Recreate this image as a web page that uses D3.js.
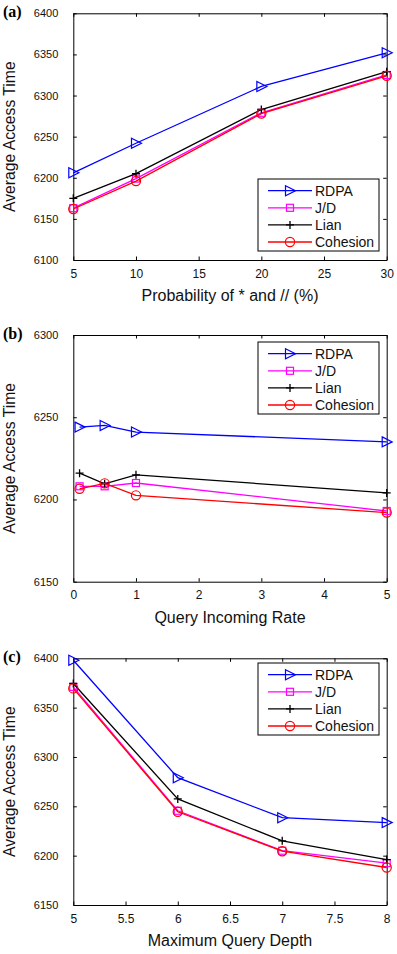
<!DOCTYPE html>
<html><head><meta charset="utf-8">
<script src="https://cdn.jsdelivr.net/npm/d3@7"></script>
<style>body{margin:0;background:#fff}svg{display:block}</style>
</head><body>
<svg id="chart" width="397" height="954"></svg>
<script>
// ---- data ----
const seriesNames = ["RDPA", "J/D", "Lian", "Cohesion"];
const seriesColors = ["#0000ff", "#ff00ff", "#000000", "#ff0000"];

const panelLabels = ["(a)", "(b)", "(c)"];
const xTitles = ["Probability of * and // (%)", "Query Incoming Rate", "Maximum Query Depth"];
const yTitle = "Average Access Time";

const xA = [5, 10, 20, 30];
const rdpaA = [6206, 6242, 6311, 6352];
const jdA = [6163, 6199, 6279, 6325];
const lianA = [6175, 6205, 6283, 6329];
const cohA = [6162, 6196, 6278, 6324];
const xTicksA = [5, 10, 15, 20, 25, 30];
const yTicksA = [6100, 6150, 6200, 6250, 6300, 6350, 6400];

const xB = [0.1, 0.5, 1, 5];
const rdpaB = [6244, 6245, 6241, 6235];
const jdB = [6208, 6208, 6210, 6193];
const lianB = [6216, 6209.5, 6215, 6204];
const cohB = [6206.5, 6209.8, 6202.5, 6192];
const xTicksB = [0, 1, 2, 3, 4, 5];
const yTicksB = [6150, 6200, 6250, 6300];

const xC = [5, 6, 7, 8];
const rdpaC = [6398, 6279, 6238.5, 6233.5];
const jdC = [6371, 6245.5, 6205, 6192.5];
const lianC = [6374.5, 6257.5, 6215, 6196];
const cohC = [6369.5, 6244.5, 6204.5, 6188];
const xTicksC = [5, 5.5, 6, 6.5, 7, 7.5, 8];
const yTicksC = [6150, 6200, 6250, 6300, 6350, 6400];

// ---- layout ----
const svg = d3.select("#chart");
const FONT = "'Liberation Sans', Arial, Helvetica, sans-serif";
const plotL = 73.3, plotR = 386.7, plotH = 246.7;

const panels = [
  {top: 13.3, xs: xA, ys: [rdpaA, jdA, lianA, cohA], xd: [5, 30], yd: [6100, 6400], xt: xTicksA, yt: yTicksA, legTop: 179},
  {top: 335, xs: xB, ys: [rdpaB, jdB, lianB, cohB], xd: [0, 5], yd: [6150, 6300], xt: xTicksB, yt: yTicksB, legTop: 342},
  {top: 658.3, xs: xC, ys: [rdpaC, jdC, lianC, cohC], xd: [5, 8], yd: [6150, 6400], xt: xTicksC, yt: yTicksC, legTop: 663}
];

function drawMarker(g, kind, x, y, color) {
  if (kind === 0) { // right-pointing triangle
    g.append("path").attr("d", `M${x-4.5},${y-5}L${x+5.5},${y}L${x-4.5},${y+5}Z`)
      .attr("fill", "none").attr("stroke", color).attr("stroke-width", 1.2);
  } else if (kind === 1) {
    g.append("rect").attr("x", x-3.5).attr("y", y-3.5).attr("width", 7).attr("height", 7)
      .attr("fill", "none").attr("stroke", color).attr("stroke-width", 1.2);
  } else if (kind === 2) {
    g.append("path").attr("d", `M${x-4},${y}H${x+4}M${x},${y-4}V${y+4}`)
      .attr("stroke", color).attr("stroke-width", 1.3);
  } else {
    g.append("circle").attr("cx", x).attr("cy", y).attr("r", 4.6)
      .attr("fill", "none").attr("stroke", color).attr("stroke-width", 1.2);
  }
}

panels.forEach((p, pi) => {
  const top = p.top, bottom = top + plotH;
  const x = d3.scaleLinear().domain(p.xd).range([plotL, plotR]);
  const y = d3.scaleLinear().domain(p.yd).range([bottom, top]);
  const g = svg.append("g");

  // axes (MATLAB style, inward ticks, box)
  const tl = 3.5;
  const axB = g.append("g").attr("transform", `translate(0,${bottom})`)
    .call(d3.axisBottom(x).tickValues(p.xt).tickSizeInner(-tl).tickSizeOuter(0).tickPadding(9).tickFormat(d3.format("~g")));
  const axT = g.append("g").attr("transform", `translate(0,${top})`)
    .call(d3.axisTop(x).tickValues(p.xt).tickSizeInner(-tl).tickSizeOuter(0).tickFormat(""));
  const axL = g.append("g").attr("transform", `translate(${plotL},0)`)
    .call(d3.axisLeft(y).tickValues(p.yt).tickSizeInner(-tl).tickSizeOuter(0).tickPadding(15).tickFormat(d3.format("d")));
  const axR = g.append("g").attr("transform", `translate(${plotR},0)`)
    .call(d3.axisRight(y).tickValues(p.yt).tickSizeInner(-tl).tickSizeOuter(0).tickFormat(""));
  [axB, axT, axL, axR].forEach(a => {
    a.select(".domain").attr("stroke", "#000").attr("stroke-width", 1);
    a.selectAll(".tick line").attr("stroke", "#000");
    a.selectAll("text").attr("font-family", FONT).attr("fill", "#111");
  });
  axB.selectAll("text").attr("font-size", 12);
  axL.selectAll("text").attr("font-size", 11);

  // series
  const line = d3.line().x(d => x(d[0])).y(d => y(d[1]));
  p.ys.forEach((vals, si) => {
    const pts = p.xs.map((xv, i) => [xv, vals[i]]);
    g.append("path").attr("d", line(pts)).attr("fill", "none")
      .attr("stroke", seriesColors[si]).attr("stroke-width", 1.3);
    pts.forEach(d => drawMarker(g, si, x(d[0]), y(d[1]), seriesColors[si]));
  });

  // legend
  const lg = g.append("g");
  const lx0 = 258, lx1 = 379, lt = p.legTop;
  lg.append("rect").attr("x", lx0).attr("y", lt).attr("width", lx1 - lx0).attr("height", 72)
    .attr("fill", "#fff").attr("stroke", "#000").attr("stroke-width", 1);
  seriesNames.forEach((name, si) => {
    const ry = lt + 11.7 + si * 17.1;
    lg.append("line").attr("x1", 268).attr("x2", 312).attr("y1", ry).attr("y2", ry)
      .attr("stroke", seriesColors[si]).attr("stroke-width", 1.3);
    drawMarker(lg, si, 290, ry, seriesColors[si]);
    lg.append("text").attr("x", 315).attr("y", ry + 5).text(name)
      .attr("font-family", FONT).attr("font-size", 14).attr("fill", "#111");
  });

  // titles
  g.append("text").attr("x", (plotL + plotR) / 2).attr("y", bottom + 41)
    .attr("text-anchor", "middle").attr("font-family", FONT).attr("font-size", 16)
    .attr("fill", "#111").text(xTitles[pi]);
  g.append("text").attr("transform", `translate(15,${top + plotH / 2}) rotate(-90)`)
    .attr("text-anchor", "middle").attr("font-family", FONT).attr("font-size", 15.7)
    .attr("fill", "#111").text(yTitle);
  g.append("text").attr("x", 3).attr("y", top + 3.5)
    .attr("font-family", "'Liberation Serif', 'Times New Roman', serif").attr("font-weight", "bold")
    .attr("font-size", 16).attr("fill", "#000").text(panelLabels[pi]);
});
</script>
</body></html>
